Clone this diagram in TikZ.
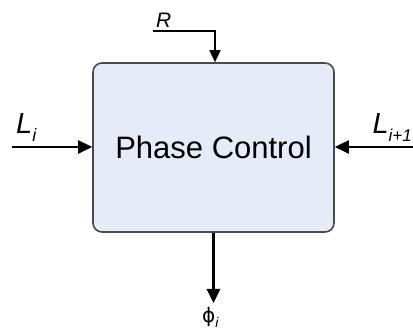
\documentclass[tikz,border=0pt]{standalone}
\usepackage{fontspec}
\setmainfont{Liberation Sans}
\newfontfamily\phifont{DejaVu Sans}
\usetikzlibrary{arrows.meta}
\definecolor{boxfill}{HTML}{E5EBF7}
\definecolor{boxline}{HTML}{4A4A4A}
\begin{document}
\begin{tikzpicture}[x=1pt,y=-1pt,
  blockbox/.style={draw=boxline,line width=1.6pt,fill=boxfill,rounded corners=9pt,
    minimum width=241pt,minimum height=169pt,inner sep=0pt,font=\fontsize{31}{31}\selectfont},
  bigarrow/.style={line width=2.6pt,-{Triangle[length=14pt,width=13pt]}},
  smallarrow/.style={line width=1.5pt,-{Triangle[length=12pt,width=11pt]}},
  lbl/.style={inner sep=0pt,font=\fontsize{29}{29}\selectfont}
]
\useasboundingbox (0,0) rectangle (413,336);
\node[blockbox] (box) at (213.5,147.5) {Phase Control};
\coordinate (li) at (12,147);
\coordinate (lj) at (416,147);
\coordinate (rs) at (153,31);
\coordinate (out) at (213.5,303);
\draw[bigarrow] (li) -- (li -| box.west);
\draw[bigarrow] (lj) -- (lj -| box.east);
\draw[smallarrow] (rs) -| (box.north -| 215,0);
\draw[bigarrow] (box.south) -- (out);
\node[lbl,anchor=base west] (tli) at (16,134) {\textit{L}\raisebox{-0.25em}{\fontsize{18}{18}\selectfont\textit{i}}};
\node[lbl,anchor=base east] (tlj) at (412,134) {\textit{L}\raisebox{-0.25em}{\fontsize{17}{17}\selectfont\textit{i+1}}};
\node[inner sep=0pt,anchor=base west,font=\fontsize{21}{21}\selectfont] (tr) at (156,28) {\textit{R}};
\node[inner sep=0pt,anchor=base west,font=\fontsize{20}{20}\selectfont] (tphi) at (202,323) {{\phifont ϕ}\raisebox{-0.25em}{\fontsize{14}{14}\selectfont\textit{i}}};
\end{tikzpicture}
\end{document}
